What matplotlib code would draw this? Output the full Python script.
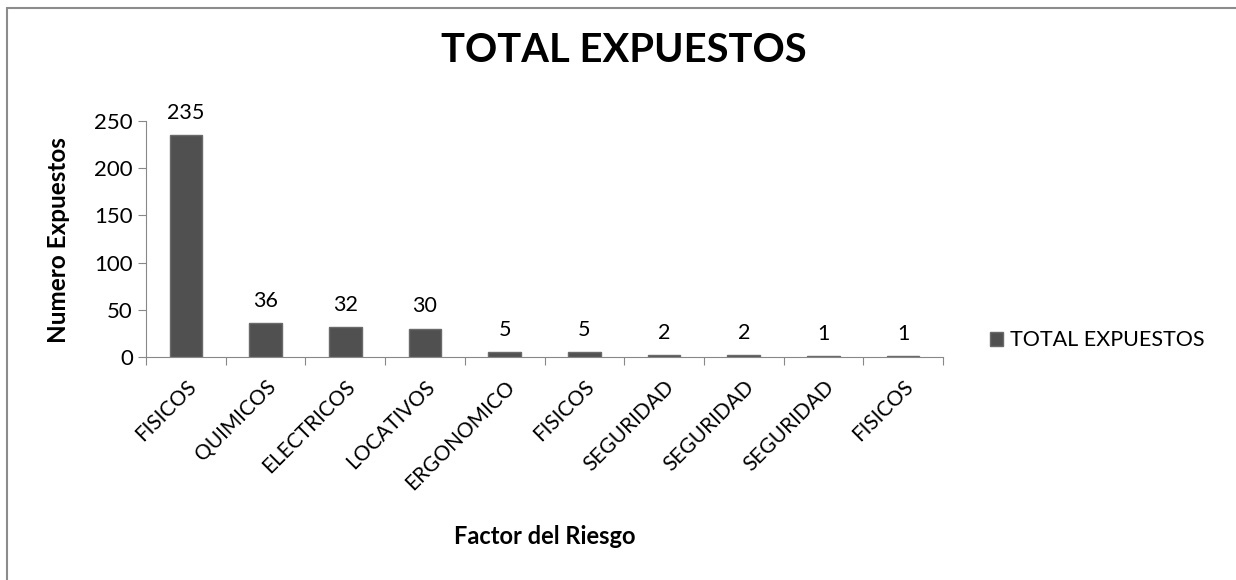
import numpy as np
import matplotlib.pyplot as plt
from matplotlib.patches import Rectangle

categories = ['FISICOS', 'QUIMICOS', 'ELECTRICOS', 'LOCATIVOS', 'ERGONOMICO',
              'FISICOS', 'SEGURIDAD', 'SEGURIDAD', 'SEGURIDAD', 'FISICOS']
values = [235, 36, 32, 30, 5, 5, 2, 2, 1, 1]

plt.rcParams['font.family'] = ['Lato', 'DejaVu Sans']

fig = plt.figure(figsize=(12.36, 5.8), dpi=100)
ax = fig.add_axes([146/1236, 1-357/580, 797/1236, 236/580])

x = np.arange(len(values))
bars = ax.bar(x, values, width=0.41, color='#505050', edgecolor='#6a6a6a',
              linewidth=1.0, label='TOTAL EXPUESTOS')
for xi, v in zip(x, values):
    ax.text(xi, v + 13, str(v), ha='center', va='bottom', fontsize=15.5)

ax.set_xlim(-0.5, len(values) - 0.5)
ax.set_ylim(0, 250)
ax.set_yticks(range(0, 251, 50))
ax.set_xticks(np.arange(-0.5, len(values), 1), minor=False)
ax.set_xticklabels([])
ax.set_xticks(x, minor=True)
ax.set_xticklabels(categories, minor=True, rotation=45, ha='right',
                   rotation_mode='anchor', fontsize=15)
ax.tick_params(axis='x', which='minor', length=0, pad=14)
ax.tick_params(axis='x', which='major', length=6, color='#888888')
ax.tick_params(axis='y', length=6, color='#888888', labelsize=16)
for s in ['top', 'right']:
    ax.spines[s].set_visible(False)
for s in ['left', 'bottom']:
    ax.spines[s].set_color('#888888')

fig.text(58/1236, 1-240/580, 'Numero Expuestos', ha='center', va='center',
         rotation=90, fontsize=17.5, fontweight='bold')
fig.text(545/1236, 1-537/580, 'Factor del Riesgo', ha='center', va='center',
         fontsize=17, fontweight='bold')
fig.text(624/1236, 1-50/580, 'TOTAL EXPUESTOS', ha='center', va='center',
         fontsize=28.7, fontweight='bold')

leg = ax.legend(loc='center left', bbox_to_anchor=(1.035, 0.07), frameon=False,
                fontsize=15.5, handlelength=0.6, handleheight=0.6, handletextpad=0.3)

fig.patches.append(Rectangle((7/1236, -0.1), 1.2, 1 - 8/580 + 0.1,
                             transform=fig.transFigure, fill=False,
                             edgecolor='#8c8c8c', linewidth=1.5))

fig.savefig('out.png', dpi=100)
